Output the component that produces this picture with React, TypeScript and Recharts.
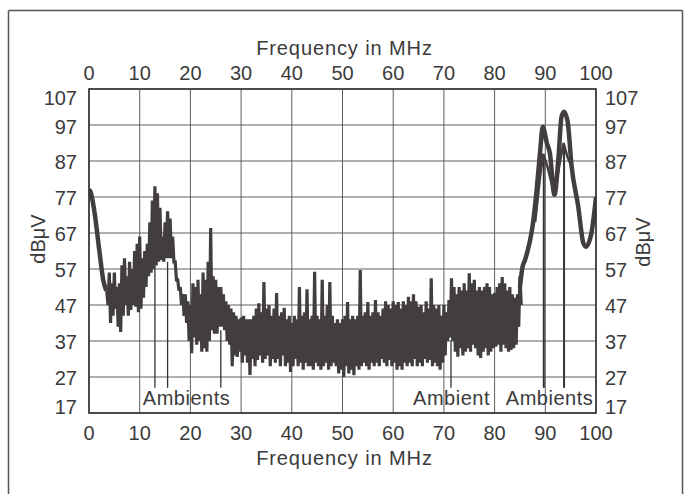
import React from 'react';
import { LineChart, Line, XAxis, YAxis, CartesianGrid, ReferenceLine } from 'recharts';

// frequency axis (MHz) and level axis (dBµV)
const xTicks = [0, 10, 20, 30, 40, 50, 60, 70, 80, 90, 100];
const yTicks = [17, 27, 37, 47, 57, 67, 77, 87, 97, 107];

// smooth start of the sweep
const introFreq = [0, 0.3, 1.1, 2.1, 2.8, 3.4];
const introLevel = [79, 78.5, 72.6, 61.4, 54, 51];

// noisy part, sampled every 0.5 MHz from 3.5 to 85 MHz (peak / floor of the band)
const noiseStart = 3.5;
const noiseStep = 0.5;
const noiseHi = [
  51, 56, 53, 56, 52, 53, 58, 60, 55, 59,
  57, 62, 64, 66, 60, 62, 64, 70, 76, 80,
  78, 74, 66, 70, 73, 71, 66, 59, 54, 52,
  50, 50, 48, 47, 53, 52, 54, 50, 56, 54,
  59, 68.4, 55, 54, 52, 52, 50, 48, 47, 46,
  45, 44, 43, 43.5, 44, 43, 43, 43, 44, 46,
  47.5, 45, 53.4, 46, 47, 44, 46, 50.3, 44, 45,
  46.2, 43, 44, 42, 44, 43, 52, 44, 45, 51.4,
  43, 44, 56.2, 44, 43, 54, 44, 47, 53.4, 44,
  42, 43, 42, 43, 44, 47.8, 43, 44, 43, 44,
  56.7, 44, 45, 47.8, 44, 45, 48.4, 45, 44, 46,
  48, 47, 46, 48, 47, 47.8, 46, 48, 47, 49.3,
  48, 50, 48, 46.5, 47, 45, 48, 46, 54.4, 47,
  46, 47, 44, 47, 45, 48.4, 54.4, 52, 50, 52,
  51, 53, 51, 55.8, 53, 54, 51, 52, 51, 52,
  53, 52, 50, 50.3, 52, 53, 54.8, 53, 51, 52,
  50, 49, 50, 55,
];
const noiseLo = [
  47, 42, 44, 46, 41, 39.5, 44, 47, 44, 45.6,
  47, 46.5, 45, 46, 49, 52, 55, 56, 57, 58,
  59, 59.5, 59, 60, 60, 60, 59, 54, 51, 47,
  44, 42, 37, 33.6, 38, 36, 37, 34, 35, 34,
  37, 40, 39, 39, 41, 41, 40, 37, 36, 30,
  33, 32.6, 34, 31, 33, 31, 27.6, 32, 30, 31.7,
  33, 31, 32, 33, 30, 32, 31, 32, 30, 33,
  30, 31, 28.4, 30, 32, 30, 31, 29, 31, 30,
  30, 29, 31, 30, 29, 30, 31, 29, 30, 31,
  30, 28, 29, 27, 30, 28, 29, 27.5, 30, 29,
  30, 31, 30, 29, 31, 30, 31, 30, 32, 31,
  30, 31.7, 30, 31, 29, 30, 29, 31, 30, 31,
  30, 32, 30, 31, 30, 32, 31, 31.7, 30, 31,
  30, 29, 31, 33, 37, 38, 37, 34, 32.6, 35,
  33, 34, 35, 34, 36, 35, 33, 32.3, 34, 35,
  33, 34, 35, 35.4, 36, 34, 36, 35, 34, 34.5,
  35, 36, 41, 47,
];

// FM band peaks
const endFreq = [85.0, 85.5, 86, 86.5, 87, 87.5, 88.3, 89, 89.5, 90.3, 90.9, 91.8, 92.6, 93.2, 93.7, 94.4, 95.2, 96.5, 97.5, 98, 99.1, 100];
const endLevel = [52, 57.5, 59.5, 62, 65, 69, 79, 90, 96.5, 92, 89.2, 77.6, 88, 99.3, 100.7, 98, 85.4, 74.3, 64.2, 63.2, 67, 77];

// inner (lower) trace in the FM band
const innerFreq = [88.0, 89.0, 89.6, 90.5, 91.8, 92.8, 93.6, 94.4, 95.2];
const innerLevel = [70, 83, 89, 85, 77.6, 86, 92, 88, 85.4];

// ambient markers
const ambientFreq = [13, 15.5, 26, 71.4, 89.7, 93.7];
const ambientTop = [58, 59, 40, 37, 88, 91];
const ambientBase = 24;

const introData = introFreq.map((f, i) => ({ f, v: introLevel[i] }));
const noiseData = noiseHi.flatMap((hi, i) => [
  { f: noiseStart + i * noiseStep, v: hi },
  { f: noiseStart + i * noiseStep + noiseStep / 2, v: noiseLo[i] },
]);
const endData = endFreq.map((f, i) => ({ f, v: endLevel[i] }));
const innerData = innerFreq.map((f, i) => ({ f, v: innerLevel[i] }));

const FONT = '"Liberation Sans", Arial, sans-serif';
const INK = '#3b3b3b';
const TRACE = '#413d40';

function yShift(v: number) {
  if (v === 107) return 8.5;
  if (v === 17) return -6.5;
  if (v === 97) return 2;
  return 1;
}

const TopTick = (props: any) => (
  <text x={props.x} y={80} textAnchor="middle" fontSize={20} fontFamily={FONT} fill={INK}>{props.payload.value}</text>
);
const BottomTick = (props: any) => (
  <text x={props.x} y={440} textAnchor="middle" fontSize={20} fontFamily={FONT} fill={INK}>{props.payload.value}</text>
);
const LeftTick = (props: any) => (
  <text x={77} y={props.y + yShift(props.payload.value) + 7} textAnchor="end" fontSize={20} fontFamily={FONT} fill={INK}>{props.payload.value}</text>
);
const RightTick = (props: any) => (
  <text x={605} y={props.y + yShift(props.payload.value) + 7} textAnchor="start" fontSize={20} fontFamily={FONT} fill={INK}>{props.payload.value}</text>
);

export default function App() {
  return (
    <div style={{ position: 'absolute', left: 0, top: 0, width: 693, height: 494, background: '#fff' }}>
      <LineChart width={693} height={494} margin={{ top: 0, right: 0, bottom: 0, left: 0 }}>
        <CartesianGrid stroke="#5e5e5e" strokeWidth={1} />
        <XAxis dataKey="f" type="number" domain={[0, 100]} ticks={xTicks} height={81}
          axisLine={false} tickLine={false} tick={BottomTick} allowDataOverflow />
        <XAxis xAxisId="top" orientation="top" dataKey="f" type="number" domain={[0, 100]} ticks={xTicks} height={89}
          axisLine={false} tickLine={false} tick={TopTick} allowDataOverflow />
        <YAxis type="number" domain={[17, 107]} ticks={yTicks} width={89}
          axisLine={false} tickLine={false} tick={LeftTick} allowDataOverflow />
        <YAxis yAxisId="right" orientation="right" type="number" domain={[17, 107]} ticks={yTicks} width={97}
          axisLine={false} tickLine={false} tick={RightTick} allowDataOverflow />

        {ambientFreq.map((f, i) => (
          <ReferenceLine key={'amb' + i} segment={[{ x: f, y: ambientBase }, { x: f, y: ambientTop[i] }]}
            stroke="#333" strokeWidth={i >= 4 ? 2 : 1.3} />
        ))}

        <Line data={noiseData} dataKey="v" type="linear" stroke={TRACE} strokeWidth={3.2} dot={false} activeDot={false} isAnimationActive={false} />
        <Line data={introData} dataKey="v" type="monotone" stroke={TRACE} strokeWidth={4.5} dot={false} activeDot={false} isAnimationActive={false} />
        <Line data={endData} dataKey="v" type="monotone" stroke={TRACE} strokeWidth={4.5} dot={false} activeDot={false} isAnimationActive={false} />
        <Line data={innerData} dataKey="v" xAxisId="top" yAxisId="right" type="linear" stroke={TRACE} strokeWidth={2.5} dot={false} activeDot={false} isAnimationActive={false} />
      </LineChart>

      <svg width={693} height={494} style={{ position: 'absolute', left: 0, top: 0, pointerEvents: 'none' }}>
        <g stroke="#555" strokeWidth={1.5} fill="none">
          <line x1={8.5} y1={10.5} x2={682.5} y2={10.5} />
          <line x1={8.5} y1={10.5} x2={8.5} y2={494} />
          <line x1={682.5} y1={10.5} x2={682.5} y2={494} />
        </g>
        <rect x={89} y={89} width={507} height={324} fill="none" stroke="#333" strokeWidth={1.6} />
        <g fontFamily={FONT} fontSize={20} fill={INK}>
          <text x={344.5} y={55} textAnchor="middle" letterSpacing={0.9}>Frequency in MHz</text>
          <text x={344.5} y={465} textAnchor="middle" letterSpacing={0.9}>Frequency in MHz</text>
          <text x={38} y={239} textAnchor="middle" dominantBaseline="central" transform="rotate(-90 38 239)">dBμV</text>
          <text x={643} y={242} textAnchor="middle" dominantBaseline="central" transform="rotate(-90 643 242)">dBμV</text>
          <text x={186.5} y={405} textAnchor="middle" letterSpacing={0.5}>Ambients</text>
          <text x={451.5} y={405} textAnchor="middle" letterSpacing={0.5}>Ambient</text>
          <text x={549.5} y={405} textAnchor="middle" letterSpacing={0.5}>Ambients</text>
        </g>
      </svg>
    </div>
  );
}
